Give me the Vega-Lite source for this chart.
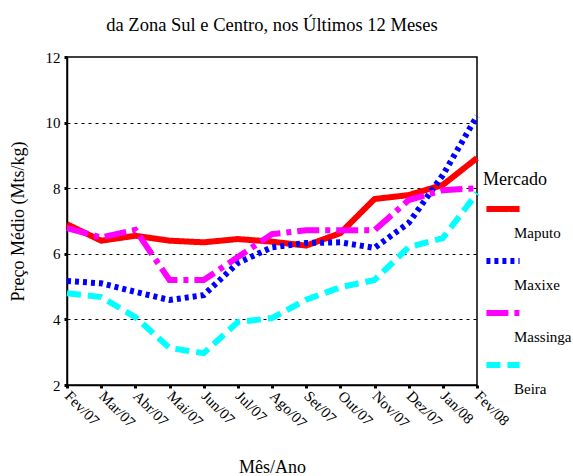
{
  "$schema": "https://vega.github.io/schema/vega-lite/v6.json",
  "width": 410,
  "height": 328,
  "autosize": {"type": "none"},
  "padding": {"left": 67, "top": 57, "right": 96, "bottom": 91},
  "background": "white",
  "title": {"text": "da Zona Sul e Centro, nos Últimos 12 Meses", "font": "'Times New Roman', 'Liberation Serif', serif", "fontSize": 18.5, "fontWeight": "normal", "color": "black", "offset": 16, "anchor": "middle"},
  "config": {
    "view": {"stroke": "black", "strokeWidth": 1.5},
    "font": "'Times New Roman', 'Liberation Serif', serif",
    "axis": {"labelFont": "'Times New Roman', 'Liberation Serif', serif", "titleFont": "'Times New Roman', 'Liberation Serif', serif"},
    "legend": {"labelFont": "'Times New Roman', 'Liberation Serif', serif", "titleFont": "'Times New Roman', 'Liberation Serif', serif"}
  },
  "data": {"values": [
    {"mes": "Fev/07", "mercado": "Maputo", "preco": 6.9},
    {"mes": "Mar/07", "mercado": "Maputo", "preco": 6.4},
    {"mes": "Abr/07", "mercado": "Maputo", "preco": 6.55},
    {"mes": "Mai/07", "mercado": "Maputo", "preco": 6.4},
    {"mes": "Jun/07", "mercado": "Maputo", "preco": 6.35},
    {"mes": "Jul/07", "mercado": "Maputo", "preco": 6.45},
    {"mes": "Ago/07", "mercado": "Maputo", "preco": 6.37},
    {"mes": "Set/07", "mercado": "Maputo", "preco": 6.25},
    {"mes": "Out/07", "mercado": "Maputo", "preco": 6.63},
    {"mes": "Nov/07", "mercado": "Maputo", "preco": 7.67},
    {"mes": "Dez/07", "mercado": "Maputo", "preco": 7.79},
    {"mes": "Jan/08", "mercado": "Maputo", "preco": 8.1},
    {"mes": "Fev/08", "mercado": "Maputo", "preco": 8.92},
    {"mes": "Fev/07", "mercado": "Maxixe", "preco": 5.17},
    {"mes": "Mar/07", "mercado": "Maxixe", "preco": 5.1},
    {"mes": "Abr/07", "mercado": "Maxixe", "preco": 4.84},
    {"mes": "Mai/07", "mercado": "Maxixe", "preco": 4.59},
    {"mes": "Jun/07", "mercado": "Maxixe", "preco": 4.74},
    {"mes": "Jul/07", "mercado": "Maxixe", "preco": 5.72},
    {"mes": "Ago/07", "mercado": "Maxixe", "preco": 6.2},
    {"mes": "Set/07", "mercado": "Maxixe", "preco": 6.33},
    {"mes": "Out/07", "mercado": "Maxixe", "preco": 6.35},
    {"mes": "Nov/07", "mercado": "Maxixe", "preco": 6.18},
    {"mes": "Dez/07", "mercado": "Maxixe", "preco": 6.94},
    {"mes": "Jan/08", "mercado": "Maxixe", "preco": 8.4},
    {"mes": "Fev/08", "mercado": "Maxixe", "preco": 10.2},
    {"mes": "Fev/07", "mercado": "Massinga", "preco": 6.78},
    {"mes": "Mar/07", "mercado": "Massinga", "preco": 6.5},
    {"mes": "Abr/07", "mercado": "Massinga", "preco": 6.73},
    {"mes": "Mai/07", "mercado": "Massinga", "preco": 5.2},
    {"mes": "Jun/07", "mercado": "Massinga", "preco": 5.2},
    {"mes": "Jul/07", "mercado": "Massinga", "preco": 5.9},
    {"mes": "Ago/07", "mercado": "Massinga", "preco": 6.6},
    {"mes": "Set/07", "mercado": "Massinga", "preco": 6.72},
    {"mes": "Out/07", "mercado": "Massinga", "preco": 6.72},
    {"mes": "Nov/07", "mercado": "Massinga", "preco": 6.72},
    {"mes": "Dez/07", "mercado": "Massinga", "preco": 7.64},
    {"mes": "Jan/08", "mercado": "Massinga", "preco": 7.94},
    {"mes": "Fev/08", "mercado": "Massinga", "preco": 8.0},
    {"mes": "Fev/07", "mercado": "Beira", "preco": 4.8},
    {"mes": "Mar/07", "mercado": "Beira", "preco": 4.68},
    {"mes": "Abr/07", "mercado": "Beira", "preco": 4.07},
    {"mes": "Mai/07", "mercado": "Beira", "preco": 3.13},
    {"mes": "Jun/07", "mercado": "Beira", "preco": 2.97},
    {"mes": "Jul/07", "mercado": "Beira", "preco": 3.92},
    {"mes": "Ago/07", "mercado": "Beira", "preco": 4.04},
    {"mes": "Set/07", "mercado": "Beira", "preco": 4.6},
    {"mes": "Out/07", "mercado": "Beira", "preco": 4.98},
    {"mes": "Nov/07", "mercado": "Beira", "preco": 5.2},
    {"mes": "Dez/07", "mercado": "Beira", "preco": 6.2},
    {"mes": "Jan/08", "mercado": "Beira", "preco": 6.48},
    {"mes": "Fev/08", "mercado": "Beira", "preco": 7.85}
  ]},
  "mark": {"type": "line", "strokeWidth": 6, "strokeCap": "butt", "strokeJoin": "miter"},
  "encoding": {
    "x": {
      "field": "mes", "type": "ordinal",
      "sort": ["Fev/07","Mar/07","Abr/07","Mai/07","Jun/07","Jul/07","Ago/07","Set/07","Out/07","Nov/07","Dez/07","Jan/08","Fev/08"],
      "scale": {"type": "point", "padding": 0},
      "axis": {
        "title": "Mês/Ano", "titleFont": "'Times New Roman', 'Liberation Serif', serif", "titleFontSize": 18, "titleFontWeight": "normal", "titleColor": "black", "titlePadding": 28,
        "labelAngle": 45, "labelAlign": "left", "labelBaseline": "middle", "labelFont": "'Times New Roman', 'Liberation Serif', serif", "labelFontSize": 15, "labelColor": "black", "labelPadding": 5,
        "domainColor": "black", "domainWidth": 1.5, "tickColor": "black", "tickWidth": 3, "tickSize": 3, "grid": false
      }
    },
    "y": {
      "field": "preco", "type": "quantitative",
      "scale": {"domain": [2, 12], "nice": false, "zero": false},
      "axis": {
        "title": "Preço Médio (Mts/kg)", "titleFont": "'Times New Roman', 'Liberation Serif', serif", "titleFontSize": 18, "titleFontWeight": "normal", "titleColor": "black", "titlePadding": 18,
        "values": [2,4,6,8,10,12], "labelFont": "'Times New Roman', 'Liberation Serif', serif", "labelFontSize": 15, "labelColor": "black", "labelPadding": 4,
        "domainColor": "black", "domainWidth": 1.5, "tickColor": "black", "tickWidth": 3, "tickSize": 3,
        "grid": true, "gridColor": "black", "gridDash": [3, 4], "gridWidth": 1,
        "gridOpacity": {"condition": {"test": "datum.value == 2 || datum.value == 12", "value": 0}, "value": 1}
      }
    },
    "color": {
      "field": "mercado", "type": "nominal",
      "scale": {"domain": ["Maputo", "Maxixe", "Massinga", "Beira"], "range": ["#ff0000", "#0000ff", "#ff00ff", "#00ffff"]},
      "legend": {
        "title": "Mercado", "titleFontSize": 18, "titleFontWeight": "normal", "titleColor": "black", "titlePadding": 0,
        "orient": "none", "legendX": 416, "legendY": 114,
        "symbolType": "stroke", "symbolSize": 1100, "symbolStrokeWidth": 6,
        "labelFontSize": 15, "labelColor": "black",
        "labelExpr": "['', datum.label]", "labelBaseline": "top", "labelLineHeight": 18, "labelOffset": -9,
        "rowPadding": 0
      }
    },
    "strokeDash": {
      "field": "mercado", "type": "nominal",
      "scale": {"domain": ["Maputo", "Maxixe", "Massinga", "Beira"], "range": [[1, 0], [4, 4], [22, 6, 5, 6], [14, 7]]},
      "legend": null
    }
  }
}
